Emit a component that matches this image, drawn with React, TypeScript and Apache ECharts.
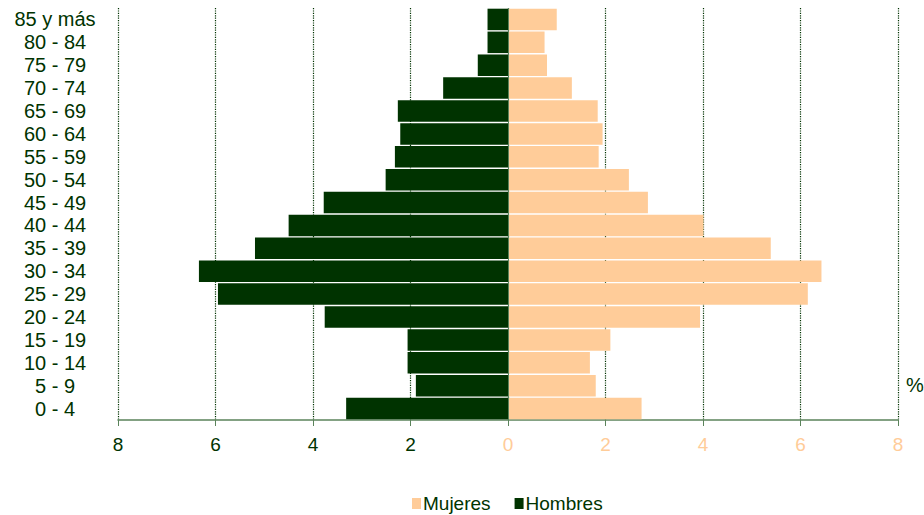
import React, { useEffect, useRef } from "react";
import * as echarts from "echarts";

const categories = [
  "0 - 4", "5 - 9", "10 - 14", "15 - 19", "20 - 24", "25 - 29", "30 - 34", "35 - 39",
  "40 - 44", "45 - 49", "50 - 54", "55 - 59", "60 - 64", "65 - 69", "70 - 74", "75 - 79",
  "80 - 84", "85 y más",
];
const hombres = [3.32, 1.89, 2.06, 2.06, 3.76, 5.95, 6.34, 5.19, 4.5, 3.78, 2.51, 2.32, 2.21, 2.26, 1.33, 0.62, 0.42, 0.42];
const mujeres = [2.74, 1.8, 1.68, 2.1, 3.94, 6.15, 6.43, 5.39, 4.01, 2.87, 2.48, 1.86, 1.94, 1.84, 1.31, 0.8, 0.75, 1.0];
const tickValues = [-8, -6, -4, -2, 0, 2, 4, 6, 8];

const GREEN = "#003300";
const PEACH = "#FFCC99";
const FONT = "'Liberation Sans', Arial, sans-serif";

export default function App() {
  const ref = useRef<HTMLDivElement>(null);
  useEffect(() => {
    if (!ref.current) return;
    const chart = echarts.init(ref.current, undefined, { renderer: "svg" });
    chart.setOption({
      animation: false,
      grid: { left: 118, right: 26, top: 8, bottom: 95 },
      legend: {
        top: 494,
        left: 412,
        data: ["Mujeres", "Hombres"],
        icon: "rect",
        itemWidth: 9,
        itemHeight: 11,
        itemGap: 24,
        padding: 0,
        textStyle: { color: GREEN, fontSize: 19, fontFamily: FONT, padding: [0, 0, 0, -3] },
      },
      xAxis: {
        type: "value",
        min: tickValues[0],
        max: tickValues[tickValues.length - 1],
        interval: 2,
        axisLine: { show: true, onZero: false, lineStyle: { color: "#5b835b", width: 1.5 } },
        axisTick: { show: true, length: 6, lineStyle: { color: "#5b835b" } },
        splitLine: { show: true, lineStyle: { type: "dotted", color: GREEN, width: 1.2 } },
        axisLabel: {
          fontSize: 19,
          fontFamily: FONT,
          margin: 15,
          formatter: (v: number) => String(Math.abs(v)),
          color: (v: any) => (Number(v) >= 0 ? PEACH : GREEN),
        },
      },
      yAxis: {
        type: "category",
        data: categories,
        axisLine: { show: false },
        axisTick: { show: false },
        axisLabel: {
          color: GREEN,
          fontSize: 20,
          fontFamily: FONT,
          align: "center",
          margin: 63,
          interval: 0,
        },
      },
      graphic: [
        {
          type: "text",
          left: 906,
          top: 375,
          style: { text: "%", fontSize: 20, fontFamily: FONT, fill: GREEN },
        },
      ],
      series: [
        {
          name: "Mujeres",
          type: "bar",
          data: mujeres,
          barGap: "-100%",
          barCategoryGap: "6%",
          itemStyle: { color: PEACH },
        },
        {
          name: "Hombres",
          type: "bar",
          data: hombres.map((v) => -v),
          barGap: "-100%",
          barCategoryGap: "6%",
          itemStyle: { color: GREEN },
          markLine: {
            silent: true,
            symbol: "none",
            label: { show: false },
            lineStyle: { color: "#5b835b", type: "solid", width: 1 },
            data: [{ xAxis: 0 }],
          },
        },
      ],
    });
    return () => chart.dispose();
  }, []);
  return <div ref={ref} style={{ width: 924, height: 515, position: "absolute", left: 0, top: 0 }} />;
}
